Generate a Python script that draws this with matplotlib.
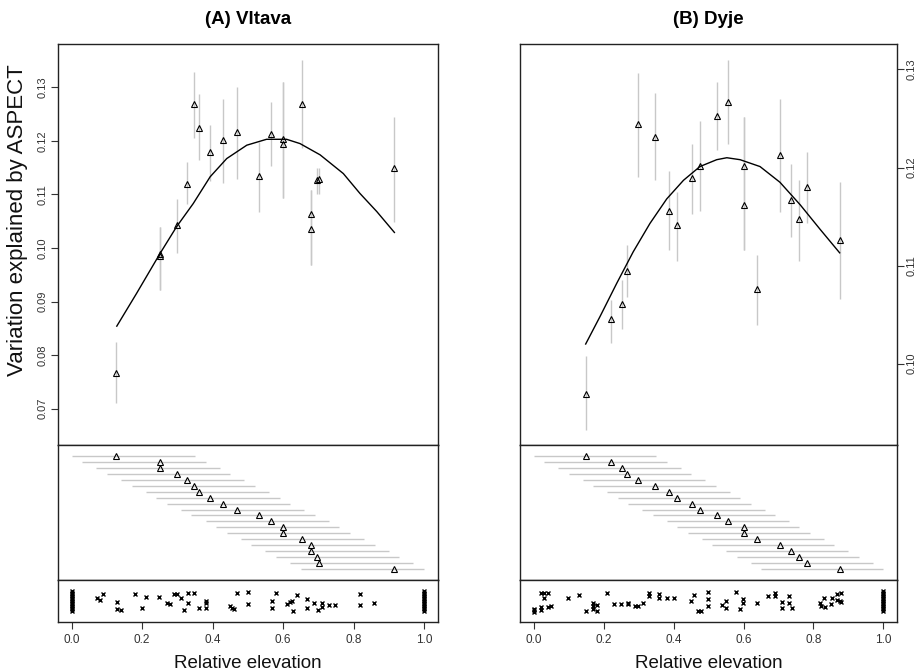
import numpy as np
import matplotlib.pyplot as plt

plt.rcParams['font.family'] = ['Liberation Sans', 'DejaVu Sans']

# moving windows along relative elevation (start of each window, width)
win_start = [0.00, 0.03, 0.07, 0.10, 0.14, 0.17, 0.21, 0.24, 0.27, 0.31,
             0.34, 0.38, 0.41, 0.44, 0.48, 0.51, 0.55, 0.58, 0.62, 0.65]
win_width = 0.35

# (A) Vltava - mean elevation of window, explained variation, interval
vlt_x = [0.127, 0.251, 0.251, 0.298, 0.326, 0.348, 0.361, 0.393, 0.429, 0.469,
         0.532, 0.566, 0.601, 0.601, 0.655, 0.678, 0.678, 0.697, 0.703, 0.916]
vlt_y = [0.0767, 0.0985, 0.0988, 0.1043, 0.1119, 0.1269, 0.1225, 0.1179, 0.1202, 0.1217,
         0.1135, 0.1213, 0.1203, 0.1194, 0.1269, 0.1063, 0.1036, 0.1127, 0.1129, 0.1149]
vlt_lo = [0.0711, 0.0922, 0.0922, 0.0990, 0.1083, 0.1205, 0.1164, 0.1126, 0.1122, 0.1128,
          0.1068, 0.1153, 0.1093, 0.1093, 0.1186, 0.0968, 0.0968, 0.1100, 0.1100, 0.1049]
vlt_hi = [0.0825, 0.1040, 0.1040, 0.1091, 0.1161, 0.1329, 0.1287, 0.1230, 0.1278, 0.1300,
          0.1198, 0.1272, 0.1310, 0.1310, 0.1352, 0.1108, 0.1108, 0.1150, 0.1150, 0.1245]
vlt_fit_x = [0.128, 0.184, 0.251, 0.298, 0.345, 0.393, 0.440, 0.497, 0.553, 0.610,
             0.648, 0.705, 0.771, 0.818, 0.866, 0.916]
vlt_fit_y = [0.0854, 0.0915, 0.0990, 0.1040, 0.1083, 0.1133, 0.1167, 0.1192, 0.1203, 0.1203,
             0.1195, 0.1174, 0.1139, 0.1102, 0.1068, 0.1029]
vlt_site_x = [0.0] * 13 + [
    0.071, 0.079, 0.090, 0.130, 0.130, 0.139, 0.180, 0.199, 0.210, 0.249,
    0.270, 0.279, 0.289, 0.298, 0.310, 0.319, 0.329, 0.331, 0.348, 0.360,
    0.380, 0.380, 0.380, 0.449, 0.454, 0.461, 0.470, 0.500, 0.500, 0.569,
    0.569, 0.580, 0.610, 0.620, 0.624, 0.629, 0.640, 0.669, 0.669, 0.689,
    0.700, 0.710, 0.710, 0.729, 0.748, 0.818, 0.818, 0.859] + [1.0] * 13
vlt_site_j = [0.26, 0.30, 0.34, 0.38, 0.42, 0.46, 0.50, 0.54, 0.58, 0.62, 0.66, 0.70, 0.74] + [
    0.56, 0.52, 0.66, 0.48, 0.30, 0.28, 0.66, 0.34, 0.60, 0.60,
    0.46, 0.42, 0.66, 0.66, 0.56, 0.28, 0.70, 0.44, 0.70, 0.34,
    0.50, 0.44, 0.34, 0.38, 0.32, 0.30, 0.70, 0.71, 0.42, 0.50,
    0.34, 0.68, 0.42, 0.48, 0.50, 0.26, 0.64, 0.54, 0.34, 0.46,
    0.28, 0.44, 0.36, 0.40, 0.40, 0.66, 0.40, 0.44] + \
    [0.26, 0.30, 0.34, 0.38, 0.42, 0.46, 0.50, 0.54, 0.58, 0.62, 0.66, 0.70, 0.74]

# (B) Dyje
dyj_x = [0.148, 0.220, 0.253, 0.267, 0.298, 0.347, 0.387, 0.408, 0.452, 0.475,
         0.525, 0.556, 0.600, 0.600, 0.638, 0.703, 0.736, 0.758, 0.781, 0.875]
dyj_y = [0.0969, 0.1046, 0.1061, 0.1094, 0.1244, 0.1231, 0.1156, 0.1141, 0.1189, 0.1202,
         0.1253, 0.1267, 0.1202, 0.1162, 0.1076, 0.1213, 0.1167, 0.1147, 0.1180, 0.1126]
dyj_lo = [0.0932, 0.1021, 0.1035, 0.1068, 0.1190, 0.1187, 0.1116, 0.1105, 0.1153, 0.1156,
          0.1218, 0.1224, 0.1116, 0.1116, 0.1039, 0.1155, 0.1129, 0.1105, 0.1143, 0.1066]
dyj_hi = [0.1008, 0.1065, 0.1085, 0.1121, 0.1296, 0.1276, 0.1196, 0.1175, 0.1224, 0.1247,
          0.1287, 0.1310, 0.1252, 0.1252, 0.1111, 0.1270, 0.1204, 0.1187, 0.1216, 0.1185]
dyj_fit_x = [0.148, 0.189, 0.237, 0.284, 0.332, 0.380, 0.428, 0.475, 0.523, 0.552,
             0.590, 0.647, 0.704, 0.762, 0.819, 0.875]
dyj_fit_y = [0.1020, 0.1048, 0.1082, 0.1114, 0.1143, 0.1168, 0.1187, 0.1201, 0.1208, 0.1210,
             0.1208, 0.1201, 0.1185, 0.1162, 0.1137, 0.1113]
dyj_site_x = [0.0, 0.0, 0.0] + [
    0.020, 0.030, 0.039, 0.030, 0.020, 0.020, 0.039, 0.049, 0.098, 0.130,
    0.149, 0.170, 0.170, 0.179, 0.170, 0.179, 0.210, 0.229, 0.249, 0.270,
    0.270, 0.289, 0.299, 0.311, 0.330, 0.330, 0.359, 0.359, 0.380, 0.401,
    0.449, 0.459, 0.469, 0.478, 0.499, 0.499, 0.499, 0.539, 0.550, 0.550,
    0.578, 0.590, 0.599, 0.599, 0.639, 0.671, 0.690, 0.690, 0.709, 0.709,
    0.730, 0.730, 0.740, 0.819, 0.821, 0.833, 0.830, 0.849, 0.852, 0.866,
    0.866, 0.876, 0.878, 0.879] + [1.0] * 13
dyj_site_j = [0.30, 0.24, 0.28] + [
    0.70, 0.70, 0.70, 0.56, 0.36, 0.28, 0.36, 0.38, 0.58, 0.64,
    0.26, 0.46, 0.38, 0.40, 0.30, 0.26, 0.70, 0.43, 0.43, 0.46,
    0.42, 0.38, 0.38, 0.46, 0.68, 0.62, 0.66, 0.56, 0.56, 0.56,
    0.50, 0.63, 0.26, 0.26, 0.71, 0.54, 0.38, 0.40, 0.49, 0.32,
    0.71, 0.30, 0.54, 0.46, 0.44, 0.62, 0.68, 0.62, 0.48, 0.34,
    0.62, 0.46, 0.32, 0.44, 0.38, 0.36, 0.58, 0.42, 0.58, 0.66,
    0.52, 0.50, 0.70, 0.48] + \
    [0.26, 0.30, 0.34, 0.38, 0.42, 0.46, 0.50, 0.54, 0.58, 0.62, 0.66, 0.70, 0.74]

W, H = 923, 672
fig = plt.figure(figsize=(W / 100, H / 100), dpi=100)

grey = '#c8c8c8'
tcol = '#333333'


def panel(left, width, title, px, py, lo, hi, fx, fy, sx, sj, ylim, yticks, right):
    # heights in pixels: top 44-445, middle 445-580, strip 580-621.7
    ax1 = fig.add_axes([left, 1 - 445 / H, width, 401 / H])
    ax2 = fig.add_axes([left, 1 - 580 / H, width, 135 / H])
    ax3 = fig.add_axes([left, 1 - 621.7 / H, width, 41.7 / H])

    ax1.vlines(px, lo, hi, color=grey, lw=1)
    ax1.plot(fx, fy, color='k', lw=1)
    ax1.plot(px, py, '^', ms=5, mfc='none', mec='k', mew=0.8, ls='none')
    ax1.set_ylim(*ylim)
    ax1.set_yticks(yticks)
    ax1.set_yticklabels(['%.2f' % v for v in yticks])
    if right:
        ax1.yaxis.tick_right()
    ax1.tick_params(axis='y', labelrotation=90, length=5, width=0.8, pad=2,
                    labelsize=8, labelcolor=tcol, color=tcol)
    for t in ax1.get_yticklabels():
        t.set_va('center')
    ax1.set_xticks([])

    rows = np.arange(len(px), 0, -1)
    ws = np.array(win_start)
    ax2.hlines(rows, ws, ws + win_width, color=grey, lw=1)
    ax2.plot(px, rows, '^', ms=5, mfc='none', mec='k', mew=0.8, ls='none')
    ax2.set_ylim(-0.8, len(px) + 1.8)
    ax2.set_xticks([])
    ax2.set_yticks([])

    ax3.plot(sx, sj, 'x', ms=3.5, color='k', mew=1, ls='none')
    ax3.set_ylim(0, 1)
    ax3.set_yticks([])
    ax3.set_xticks([0.0, 0.2, 0.4, 0.6, 0.8, 1.0])
    ax3.set_xticklabels(['0.0', '0.2', '0.4', '0.6', '0.8', '1.0'])
    ax3.tick_params(axis='x', length=5, width=0.8, pad=4, labelsize=8.5,
                    labelcolor=tcol, color=tcol)

    for ax in (ax1, ax2, ax3):
        ax.set_xlim(-0.04, 1.04)
        for s in ax.spines.values():
            s.set_color('#222222')
            s.set_linewidth(1)

    cx = left + width / 2
    fig.text(cx, 1 - 19 / H, title, ha='center', va='center',
             fontsize=13.5, fontweight='bold')
    fig.text(cx, 1 - 663 / H, 'Relative elevation', ha='center', va='center',
             fontsize=13.5, color='#111111')


panel(57.6 / W, 380.5 / W, '(A) Vltava', vlt_x, vlt_y, vlt_lo, vlt_hi,
      vlt_fit_x, vlt_fit_y, vlt_site_x, vlt_site_j,
      (0.0632, 0.1381), [0.07, 0.08, 0.09, 0.10, 0.11, 0.12, 0.13], False)
panel(520 / W, 377.3 / W, '(B) Dyje', dyj_x, dyj_y, dyj_lo, dyj_hi,
      dyj_fit_x, dyj_fit_y, dyj_site_x, dyj_site_j,
      (0.0917, 0.1326), [0.10, 0.11, 0.12, 0.13], True)

fig.text(18 / W, 1 - 220 / H, 'Variation explained by ASPECT', rotation=90,
         ha='center', va='center', fontsize=16, color='#111111')

fig.savefig('out.png', dpi=100)
